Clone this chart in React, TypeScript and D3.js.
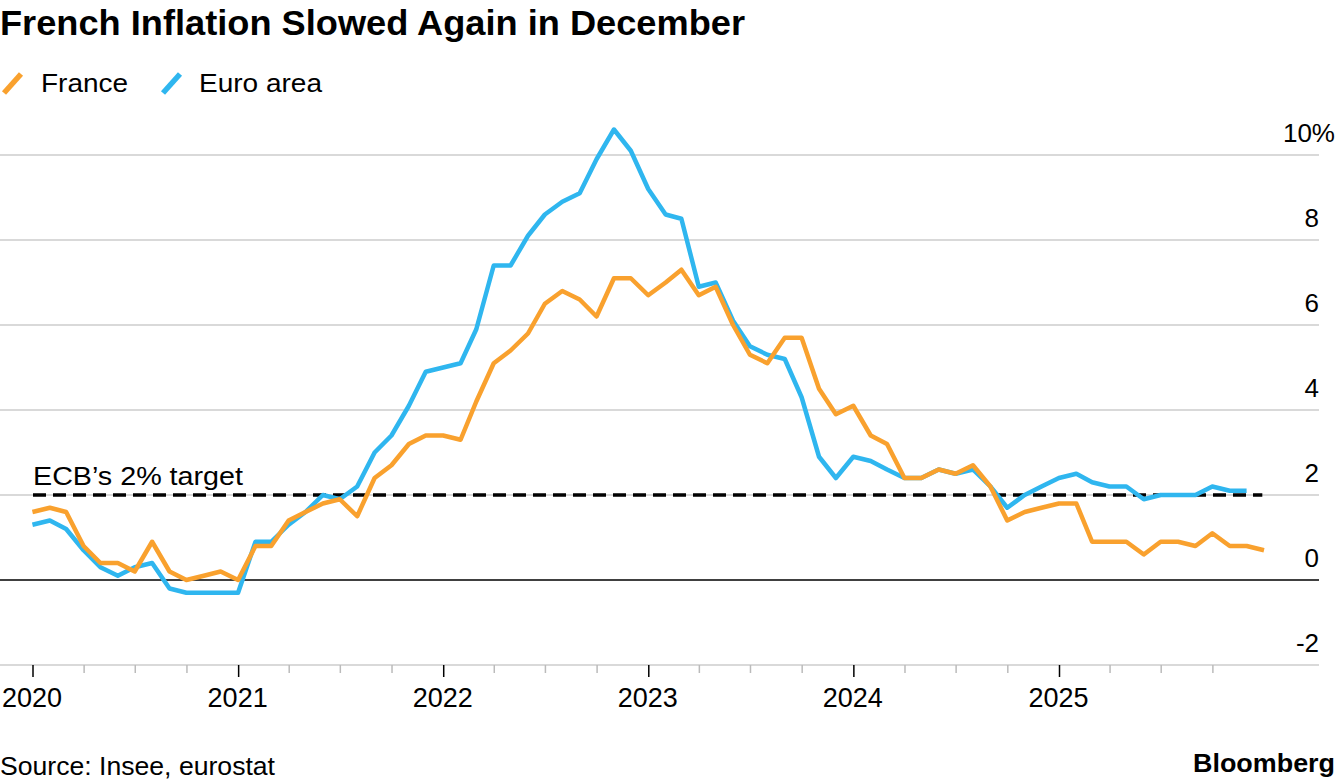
import React from "react";
import * as d3 from "d3";

// Monthly HICP inflation, % y/y. First value = Dec 2019.
const franceValues = [
  1.6,
  1.7, 1.6, 0.8, 0.4, 0.4, 0.2, 0.9, 0.2, 0.0, 0.1, 0.2, 0.0,
  0.8, 0.8, 1.4, 1.6, 1.8, 1.9, 1.5, 2.4, 2.7, 3.2, 3.4, 3.4,
  3.3, 4.2, 5.1, 5.4, 5.8, 6.5, 6.8, 6.6, 6.2, 7.1, 7.1, 6.7,
  7.0, 7.3, 6.7, 6.9, 6.0, 5.3, 5.1, 5.7, 5.7, 4.5, 3.9, 4.1,
  3.4, 3.2, 2.4, 2.4, 2.6, 2.5, 2.7, 2.2, 1.4, 1.6, 1.7, 1.8,
  1.8, 0.9, 0.9, 0.9, 0.6, 0.9, 0.9, 0.8, 1.1, 0.8, 0.8, 0.7,
];
const euroValues = [
  1.3,
  1.4, 1.2, 0.7, 0.3, 0.1, 0.3, 0.4, -0.2, -0.3, -0.3, -0.3, -0.3,
  0.9, 0.9, 1.3, 1.6, 2.0, 1.9, 2.2, 3.0, 3.4, 4.1, 4.9, 5.0,
  5.1, 5.9, 7.4, 7.4, 8.1, 8.6, 8.9, 9.1, 9.9, 10.6, 10.1, 9.2,
  8.6, 8.5, 6.9, 7.0, 6.1, 5.5, 5.3, 5.2, 4.3, 2.9, 2.4, 2.9,
  2.8, 2.6, 2.4, 2.4, 2.6, 2.5, 2.6, 2.2, 1.7, 2.0, 2.2, 2.4,
  2.5, 2.3, 2.2, 2.2, 1.9, 2.0, 2.0, 2.0, 2.2, 2.1, 2.1,
];
const firstMonth = new Date(Date.UTC(2019, 11, 1));
const yTicks = [-2, 0, 2, 4, 6, 8, 10];
const yearTicks = [2020, 2021, 2022, 2023, 2024, 2025];
const targetValue = 2;

const seriesNames = ["France", "Euro area"];
const colors = { France: "#f9a12e", "Euro area": "#2fb6ef" };

const FONT = "'Liberation Sans', Arial, Helvetica, sans-serif";

export default function App() {
  const W = 1336, H = 784;
  const x = d3
    .scaleUtc()
    .domain([new Date(Date.UTC(2020, 0, 1)), new Date(Date.UTC(2025, 0, 1))])
    .range([33, 1059.5]);
  const y = d3.scaleLinear().domain([-2, 10]).range([665, 155]);

  const monthEnd = (i: number) =>
    d3.utcDay.offset(d3.utcMonth.offset(firstMonth, i + 1), -1);

  const toPts = (vals: number[]) => vals.map((v, i) => ({ d: monthEnd(i), v }));
  const line = d3
    .line<{ d: Date; v: number }>()
    .x((p) => x(p.d))
    .y((p) => y(p.v));

  const franceD = line(toPts(franceValues)) || "";
  const euroD = line(toPts(euroValues)) || "";

  const gridRight = 1319;
  const quarterTicks = d3
    .utcMonth.every(3)!
    .range(new Date(Date.UTC(2020, 0, 1)), new Date(Date.UTC(2025, 11, 31)))
    .filter((d) => d.getUTCMonth() !== 0);

  return (
    <svg
      width={W}
      height={H}
      style={{ position: "absolute", left: 0, top: 0, background: "#fff" }}
      fontFamily={FONT}
    >
      <text x={0} y={35} fontSize={35} fontWeight="bold" fill="#000" textLength={745} lengthAdjust="spacingAndGlyphs">
        French Inflation Slowed Again in December
      </text>

      {/* legend */}
      <line x1={4} y1={93} x2={21} y2={74} stroke={colors.France} strokeWidth={5.5} />
      <text x={41} y={91.5} fontSize={26} fill="#000" textLength={87} lengthAdjust="spacingAndGlyphs">{seriesNames[0]}</text>
      <line x1={163} y1={93} x2={180} y2={74} stroke={colors["Euro area"]} strokeWidth={5.5} />
      <text x={199} y={91.5} fontSize={26} fill="#000" textLength={123} lengthAdjust="spacingAndGlyphs">{seriesNames[1]}</text>

      {/* gridlines */}
      {yTicks.map((t) => (
        <line
          key={t}
          x1={0}
          x2={gridRight}
          y1={y(t)}
          y2={y(t)}
          stroke={t === 0 ? "#000" : "#cccccc"}
          strokeWidth={t === 0 ? 1.6 : 1.5}
        />
      ))}
      {yTicks.map((t) => (
        <text
          key={"l" + t}
          x={t === 10 ? 1335 : gridRight}
          y={y(t) - 13}
          fontSize={26}
          textAnchor="end"
          fill="#000"
        >
          {t === 10 ? "10%" : String(t)}
        </text>
      ))}

      {/* x ticks */}
      {quarterTicks.map((d, i) => (
        <line key={"q" + i} x1={x(d)} x2={x(d)} y1={665} y2={673} stroke="#bbbbbb" strokeWidth={1.5} />
      ))}
      {yearTicks.map((yr) => {
        const px = x(new Date(Date.UTC(yr, 0, 1)));
        return (
          <g key={yr}>
            <line x1={px} x2={px} y1={665} y2={677} stroke="#000" strokeWidth={1.5} />
            <text x={px - 1} y={707} fontSize={27} textAnchor="middle" fill="#000">
              {yr}
            </text>
          </g>
        );
      })}

      {/* target */}
      <line
        x1={x(new Date(Date.UTC(2020, 0, 1)))}
        x2={x(new Date(Date.UTC(2025, 11, 28)))}
        y1={y(targetValue)}
        y2={y(targetValue)}
        stroke="#000"
        strokeWidth={3.5}
        strokeDasharray="13 7"
      />
      <text x={33} y={y(targetValue) - 10} fontSize={26.5} fill="#000" textLength={210} lengthAdjust="spacingAndGlyphs">
        ECB’s 2% target
      </text>

      {/* series */}
      <path d={euroD} fill="none" stroke={colors["Euro area"]} strokeWidth={4.5} strokeLinejoin="round" />
      <path d={franceD} fill="none" stroke={colors.France} strokeWidth={4.5} strokeLinejoin="round" />

      {/* footer */}
      <text x={0} y={775} fontSize={26} fill="#000" textLength={275} lengthAdjust="spacingAndGlyphs">Source: Insee, eurostat</text>
      <text x={1335} y={772} fontSize={25} fontWeight="bold" textAnchor="end" fill="#000" textLength={142} lengthAdjust="spacingAndGlyphs">
        Bloomberg
      </text>
    </svg>
  );
}
